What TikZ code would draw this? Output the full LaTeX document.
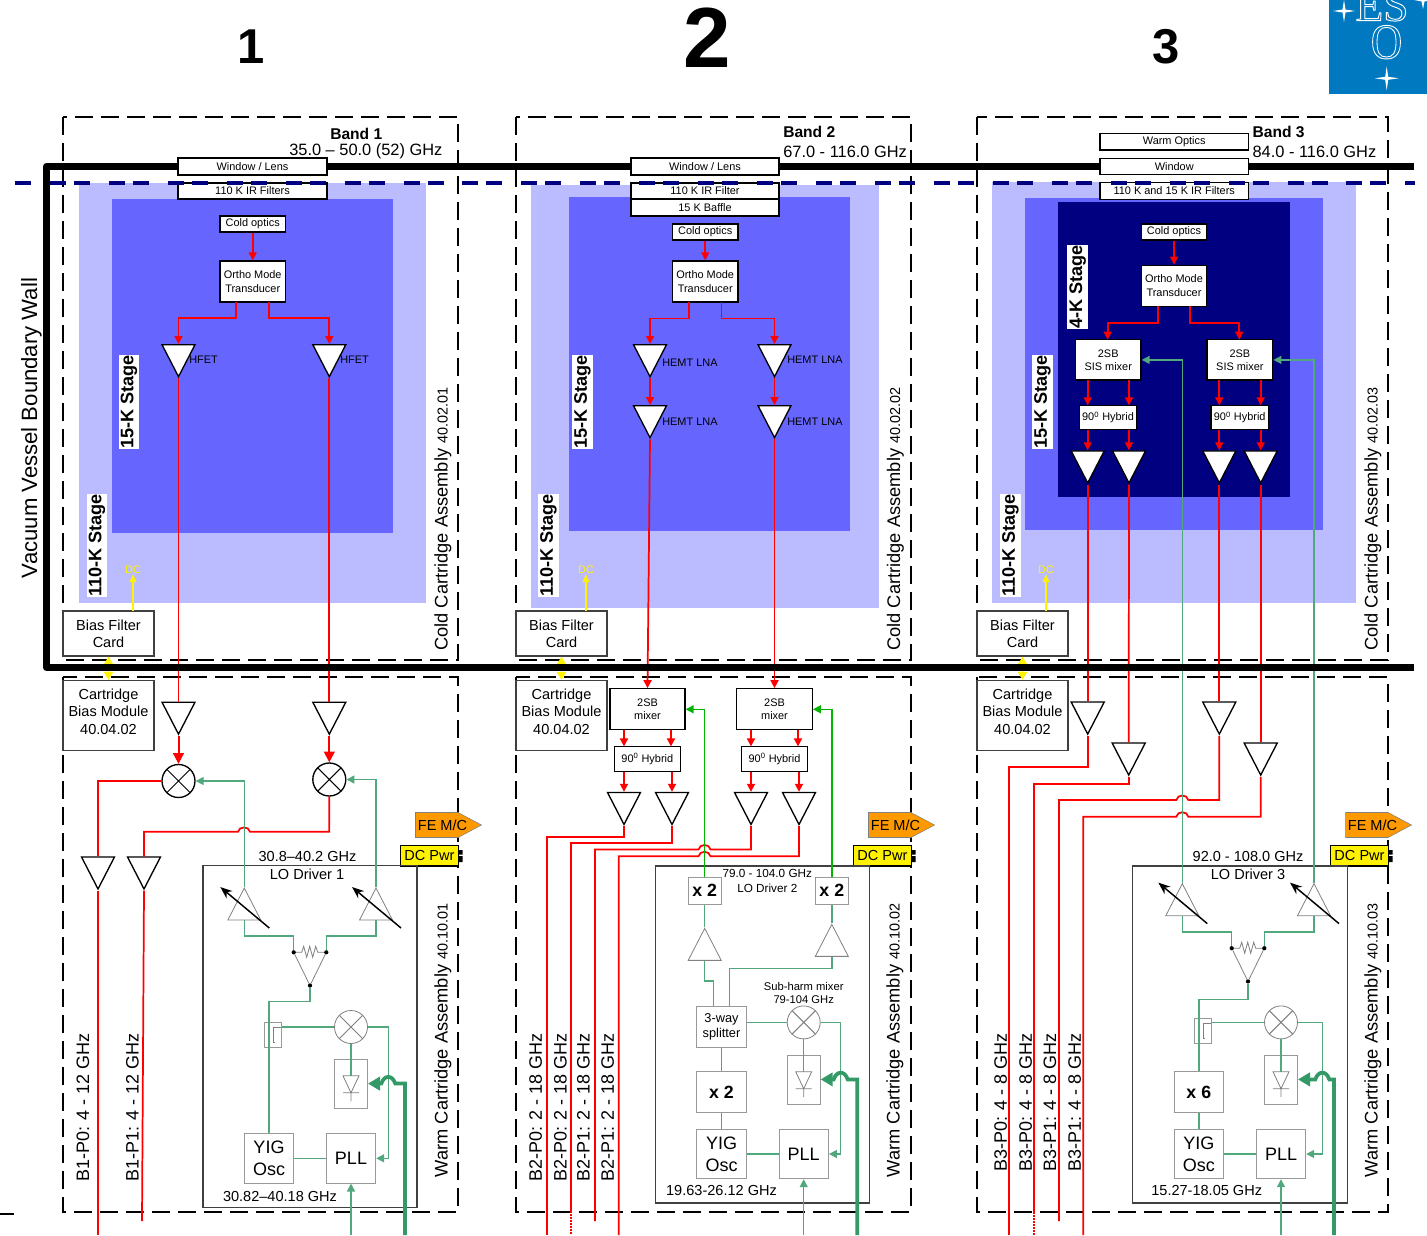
\documentclass[tikz,border=0pt]{standalone}
\usepackage{fontspec}
\setmainfont{Liberation Sans}
\newfontfamily\esofont{Liberation Serif}
\usetikzlibrary{arrows.meta,shapes.geometric}
\definecolor{sigred}{HTML}{FF0000}
\definecolor{logreen}{HTML}{339966}
\definecolor{rfgreen}{HTML}{00B400}
\definecolor{stagelight}{HTML}{BBBBFF}
\definecolor{stagemid}{HTML}{6666FF}
\definecolor{stagedark}{HTML}{000080}
\definecolor{esoblue}{HTML}{0079C1}
\definecolor{fcgray}{HTML}{808080}
\definecolor{femc}{HTML}{FF9900}
\newcommand{\esooutline}[1]{\special{pdf:code 1 Tr 0.7 w 1 1 1 RG}#1\special{pdf:code 0 Tr}}
\tikzset{
	optbox/.style 2 args={draw, fill=white, line width=1pt, inner sep=0pt, align=center, minimum width=#1*0.75pt, minimum height=#2*0.75pt, font=\fontsize{8.2}{10}\selectfont},
	infobox/.style 2 args={draw=black!75, fill=white, line width=1pt, inner sep=0pt, align=center, minimum width=#1*0.75pt, minimum height=#2*0.75pt, font=\fontsize{10.9}{13}\selectfont},
	lobox/.style 2 args={draw=fcgray!80, line width=0.75pt, fill=white, inner sep=0pt, align=center, minimum width=#1*0.75pt, minimum height=#2*0.75pt, font=\fontsize{13.5}{16.5}\selectfont},
	ampd/.style={isosceles triangle, isosceles triangle stretches, shape border rotate=-90, draw, fill=white, line width=1pt, inner sep=0pt, minimum width=33*0.75pt, minimum height=32*0.75pt, anchor=lower side},
	ampu/.style={isosceles triangle, isosceles triangle stretches, shape border rotate=90, draw=fcgray, line width=0.6pt, inner sep=0pt, minimum width=33*0.75pt, minimum height=32*0.75pt, anchor=apex},
	mixer/.style={circle, draw=#1, fill=white, line width=1pt, inner sep=0pt, minimum size=33*0.75pt, path picture={\draw[#1, line width=0.75pt] (path picture bounding box.north west) -- (path picture bounding box.south east) (path picture bounding box.north east) -- (path picture bounding box.south west);}},
	mixer/.default=black,
	dotp/.style={circle, fill=black, inner sep=0pt, minimum size=3.2pt},
	redline/.style={draw=sigred, line width=1.3pt},
	redarrow/.style={redline, -{Triangle[length=6pt,width=6pt]}},
	redbig/.style={redline, line width=1.5pt, -{Triangle[length=8pt,width=8pt]}},
	greenline/.style={draw=logreen!85!white, line width=1.1pt},
	greenarrow/.style={greenline, -{Triangle[length=6pt,width=6pt]}},
	rfarrow/.style={draw=rfgreen, line width=1.1pt, -{Triangle[length=6pt,width=6pt]}},
	thickgreen/.style={draw=logreen, line width=2.8pt, -{Triangle[length=9pt,width=10pt]}},
	bandline/.style={line width=1.3pt, dash pattern=on 13.5pt off 6pt},
	sidelabel/.style={rotate=90, anchor=west, inner sep=0pt, font=\fontsize{13.7}{15}\selectfont},
	ifont/.style={inner sep=0pt, font=\fontsize{10.9}{13}\selectfont},
	tiny/.style={inner sep=0pt, font=\fontsize{8.2}{10}\selectfont},
	stagelab/.style={rotate=90, fill=white, inner xsep=0pt, inner ysep=1.5pt, font=\bfseries\fontsize{13.6}{15}\selectfont},
	bigmult/.style={font=\bfseries\fontsize{13.3}{15}\selectfont},
}
\begin{document}
\begin{tikzpicture}[x=0.75pt,y=-0.75pt]
\useasboundingbox (0,0) rectangle (1427,1235);
% cold stages
\fill[stagelight] (79,183) rectangle (426,603);
\fill[stagemid] (112,199) rectangle (393,533);
\fill[stagelight] (531,185) rectangle (879,608);
\fill[stagemid] (569,197) rectangle (850,531);
\fill[stagelight] (992,182) rectangle (1356,603);
\fill[stagemid] (1025,198) rectangle (1323,530);
\fill[stagedark] (1058,202) rectangle (1290,497);
% titles and logo
\node[font=\bfseries\fontsize{36.7}{40}\selectfont] (title1) at (251,47) {1};
\node[font=\bfseries\fontsize{64}{70}\selectfont] (title2) at (707.5,38) {2};
\node[font=\bfseries\fontsize{36.7}{40}\selectfont] (title3) at (1166,47) {3};
\begin{scope}
	\clip (1329,0) rectangle (1427,94);
	\fill[esoblue] (1329,0) rectangle (1427,94);
	\foreach \cx/\cy/\a in {1344/11/11, 1386.7/78.3/12, 1423/0/9}
		\fill[white] (\cx+\a,\cy) -- (\cx+1.5,\cy-1.5) -- (\cx,\cy-\a) -- (\cx-1.5,\cy-1.5) -- (\cx-\a,\cy) -- (\cx-1.5,\cy+1.5) -- (\cx,\cy+\a) -- (\cx+1.5,\cy+1.5) -- cycle;
	\node[anchor=base, inner sep=0pt, font=\esofont\fontsize{34}{34}\selectfont, text=white] (esoes) at (1382,20.7) {\esooutline{ES}};
	\node[anchor=base, inner sep=0pt, xscale=0.87, font=\esofont\fontsize{37.5}{38}\selectfont, text=white] (esoo) at (1386.5,58.5) {\esooutline{O}};
\end{scope}
% parts that all three bands have
\foreach \n/\l/\r/\dc in {1/63/458/133, 2/516/911/586, 3/977/1388/1046} {
	\draw[bandline] (\l,117) rectangle (\r,660);
	\draw[bandline] (\l,677) rectangle (\r,1212);
	\node[infobox={91}{45}] (bias\n) at (\l+45.5,633.5) {Bias Filter\\Card};
	\node[infobox={91}{70}] (cart\n) at (\l+45.5,715.5) {Cartridge\\Bias Module\\40.04.02\\[-7pt]~};
	\draw[yellow, line width=1.2pt, {Triangle[length=6pt,width=7pt]}-{Triangle[length=6pt,width=7pt]}] (bias\n.south) -- (cart\n.north);
	\node[tiny, yellow] (dc\n) at (\dc,570) {DC};
	\coordinate (dcb\n) at (\dc,611);
	\draw[yellow, line width=1pt, -{Triangle[length=6pt,width=5pt]}] (dcb\n) -- (dc\n.south);
	\draw[fcgray, fill=femc] (\r-42.5,812.5) -- (\r,812.5) -- (\r+23.5,825) -- (\r,837.5) -- (\r-42.5,837.5) -- cycle;
	\node[ifont] (fe\n) at (\r-15.5,825) {FE M/C};
	\node[draw, fill=yellow, line width=0.9pt, ifont, minimum width=57.5*0.75pt, minimum height=20.5*0.75pt] (dcp\n) at (\r-28.5,855.7) {DC Pwr};
	\fill (\r,850) rectangle (\r+4.5,854.5) (\r,856) rectangle (\r+4.5,862);
}
\node[infobox={214}{342}, fill=none, draw=black!75] (lo1) at (310,1036.5) {};
\node[infobox={214}{337}, fill=none, draw=black!75] (lo2) at (762.7,1034.5) {};
\node[infobox={214.6}{337}, fill=none, draw=black!75] (lo3) at (1240,1034.5) {};
% band 1 cold part
\node[optbox={65.5}{16}] (cold1) at (252.7,224) {Cold optics};
\node[optbox={65.5}{41}] (omt1) at (252.7,281.5) {Ortho Mode\\Transducer};
\node[ampd] (hf1a) at (178.5,344) {};
\node[ampd] (hf1b) at (329.3,344) {};
\node[tiny, anchor=west] (hflab1a) at (189,359.5) {HFET};
\node[tiny, anchor=west] (hflab1b) at (340,359.5) {HFET};
\coordinate (omt1l) at (236.3,302);
\coordinate (omt1r) at (268.7,302);
\draw[redarrow] (cold1) -- (omt1);
\draw[redarrow] (omt1l) |- (178.5,318.3) -- (hf1a.lower side);
\draw[redarrow] (omt1r) |- (329.3,318.3) -- (hf1b.lower side);
% band 1 warm part
\node[ampd] (amp1a) at (178.5,701.5) {};
\node[ampd] (amp1b) at (329.3,701.5) {};
\node[mixer] (mix1a) at (178.5,781) {};
\node[mixer] (mix1b) at (329.3,779.5) {};
\node[ampd] (amp1c) at (98,856.3) {};
\node[ampd] (amp1d) at (144,856.3) {};
\coordinate (out1a) at (98,1235);
\coordinate (out1b) at (142,1221);
\draw[redline] (hf1a.apex) -- (amp1a.lower side);
\draw[redline] (hf1b.apex) -- (amp1b.lower side);
\draw[redbig] (amp1a.apex) -- (mix1a.north);
\draw[redbig] (amp1b.apex) -- (mix1b.north);
\draw[redline] (mix1a.west) -| (amp1c.lower side);
\draw[redline] (mix1b.south) |- (250,831.7) .. controls (249,826) and (239,826) .. (238,831.7) -| (amp1d.lower side);
\draw[redline] (amp1c.apex) -- (out1a);
\draw[redline] (amp1d.apex) -- (out1b);
% band 2 cold part
\node[optbox={65.5}{16}] (cold2) at (705.2,232) {Cold optics};
\node[optbox={65.5}{41}] (omt2) at (705.2,281.5) {Ortho Mode\\Transducer};
\node[ampd] (hem2a) at (650,344) {};
\node[ampd] (hem2b) at (774.5,344) {};
\node[ampd] (hem2c) at (650,405) {};
\node[ampd] (hem2d) at (774.5,405) {};
\foreach \nm/\x/\y in {hlab2a/662/363, hlab2b/787/360, hlab2c/662/422, hlab2d/787/422}
	\node[tiny, anchor=west] (\nm) at (\x,\y) {HEMT LNA};
\coordinate (omt2l) at (689,302);
\coordinate (omt2r) at (721.5,302);
\draw[redarrow] (cold2) -- (omt2);
\draw[redarrow] (omt2l) |- (650,318.5) -- (hem2a.lower side);
\draw[redarrow] (omt2r) |- (774.5,318.5) -- (hem2b.lower side);
\draw[redarrow] (hem2a.apex) -- (hem2c.lower side);
\draw[redarrow] (hem2b.apex) -- (hem2d.lower side);
% band 2 warm part
\node[optbox={75}{41}] (sb2a) at (647.5,709.3) {2SB\\mixer};
\node[optbox={75.6}{41}] (sb2b) at (774.5,709.3) {2SB\\mixer};
\node[optbox={66}{25}] (hy2a) at (647.3,759) {90\textsuperscript{0} Hybrid};
\node[optbox={66.4}{25}] (hy2b) at (774.5,759) {90\textsuperscript{0} Hybrid};
\node[ampd] (amp2a) at (624,791.8) {};
\node[ampd] (amp2b) at (672,791.8) {};
\node[ampd] (amp2c) at (751,791.8) {};
\node[ampd] (amp2d) at (799,791.8) {};
\draw[redarrow] (hem2c.apex) -- (sb2a.north);
\draw[redarrow] (hem2d.apex) -- (sb2b.north);
\foreach \x in {624,671,751,798}
	\draw[redarrow] (\x,730) -- (\x,746.4);
\draw[redarrow] (624,771.6) -- (amp2a.lower side);
\draw[redarrow] (672,771.6) -- (amp2b.lower side);
\draw[redarrow] (751,771.6) -- (amp2c.lower side);
\draw[redarrow] (799,771.6) -- (amp2d.lower side);
\coordinate (out2a) at (547,1235);
\coordinate (out2b) at (571,1211);
\coordinate (out2bx) at (571,1235);
\coordinate (out2c) at (595,1221);
\coordinate (out2d) at (618.7,1235);
\draw[redline] (amp2a.apex) |- (547,836.8) -- (out2a);
\draw[redline] (amp2b.apex) |- (571,843.3) -- (out2b);
\draw[redline, densely dotted] (out2b) -- (out2bx);
\draw[redline] (amp2c.apex) |- (710.5,849.5) .. controls (709.5,843.5) and (699.5,843.5) .. (698.5,849.5) -| (out2c);
\draw[redline] (amp2d.apex) |- (710.5,856.3) .. controls (709.5,850.3) and (699.5,850.3) .. (698.5,856.3) -| (out2d);
% band 2 LO driver
\node[lobox={33}{27}, bigmult] (dbl2a) at (704.7,890.7) {x 2};
\node[lobox={33}{27}, bigmult] (dbl2b) at (831.8,890.7) {x 2};
\node[ampu] (tri2a) at (704.7,927.3) {};
\node[ampu] (tri2b) at (831.8,923.3) {};
\node[lobox={49.6}{41}, font=\fontsize{9.6}{11.6}\selectfont] (spl2) at (721.5,1026.8) {3-way\\splitter};
\node[lobox={49.6}{41}, bigmult] (dbl2c) at (721.5,1092.4) {x 2};
\draw[rfarrow] (dbl2a.north) |- (sb2a.east);
\draw[rfarrow] (dbl2b.north) |- (sb2b.east);
\draw[greenline] (dbl2a.south) -- (tri2a.apex);
\draw[greenline] (dbl2b.south) -- (tri2b.apex);
\draw[greenline] (tri2a.lower side) |- (713.3,981) -- (713.3,1006.3);
\draw[greenline] (tri2b.lower side) |- (729.7,968.7) -- (729.7,1006.3);
\draw[greenline] (spl2.south) -- (dbl2c.north);
\node[tiny, align=center, font=\fontsize{8.4}{9.7}\selectfont] (sub2) at (803.7,993) {Sub-harm mixer\\79-104 GHz};
% band 3 cold part
\node[optbox={65.4}{16}] (cold3) at (1174,232) {Cold optics};
\node[optbox={65.4}{41}] (omt3) at (1174,285.7) {Ortho Mode\\Transducer};
\node[optbox={65.7}{40.3}] (sis3a) at (1108.2,359.9) {2SB\\SIS mixer};
\node[optbox={65.7}{40.3}] (sis3b) at (1239.9,359.9) {2SB\\SIS mixer};
\node[optbox={57.4}{24.4}] (hy3a) at (1108,417.5) {90\textsuperscript{0} Hybrid};
\node[optbox={57.4}{24.4}] (hy3b) at (1239.7,417.5) {90\textsuperscript{0} Hybrid};
\node[ampd] (cmp3a) at (1087.7,450.3) {};
\node[ampd] (cmp3b) at (1129,450.3) {};
\node[ampd] (cmp3c) at (1219.3,450.3) {};
\node[ampd] (cmp3d) at (1260.7,450.3) {};
\coordinate (omt3l) at (1157.7,306);
\coordinate (omt3r) at (1190.3,306);
\draw[redarrow] (cold3) -- (omt3);
\draw[redarrow] (omt3l) |- (1107.7,322.7) -- (1107.7,339.7);
\draw[redarrow] (omt3r) |- (1239.3,322.7) -- (1239.3,339.7);
\foreach \x in {1087.7,1129,1219.3,1260.7} {
	\draw[redarrow] (\x,380) -- (\x,405.3);
	\draw[redarrow] (\x,429.7) -- (\x,450.3);
}
% band 3 warm part
\node[ampd] (amp3a) at (1087.7,701.4) {};
\node[ampd] (amp3b) at (1128.7,742.4) {};
\node[ampd] (amp3c) at (1219.3,701.4) {};
\node[ampd] (amp3d) at (1260.7,742.4) {};
\coordinate (out3a) at (1009.3,1235);
\coordinate (out3b) at (1034,1212);
\coordinate (out3bx) at (1034,1235);
\coordinate (out3c) at (1059,1221);
\coordinate (out3d) at (1083.3,1235);
\draw[redline] (cmp3a.apex) -- (amp3a.lower side);
\draw[redline] (cmp3b.apex) -- (amp3b.lower side);
\draw[redline] (cmp3c.apex) -- (amp3c.lower side);
\draw[redline] (cmp3d.apex) -- (amp3d.lower side);
\draw[redline] (amp3a.apex) |- (1009.3,767) -- (out3a);
\draw[redline] (amp3b.apex) |- (1034,783.9) -- (out3b);
\draw[redline, densely dotted] (out3b) -- (out3bx);
\draw[redline] (amp3c.apex) |- (1188.3,800) .. controls (1187.3,794) and (1177.3,794) .. (1176.3,800) -| (out3c);
\draw[redline] (amp3d.apex) |- (1188.3,816.7) .. controls (1187.3,810.7) and (1177.3,810.7) .. (1176.3,816.7) -| (out3d);
% variable amplifiers and power combiners
\foreach \nm/\x/\y in {vamp1a/244.3/887, vamp1b/376/887, vamp3a/1182.3/882.6, vamp3b/1314/882.6} {
	\node[ampu] (\nm) at (\x,\y) {};
	\draw[line width=1.1pt, -{Stealth[length=9pt,width=7pt]}] (\x+25,\y+41) -- (\x-24,\y);
}
\foreach \n/\x/\y in {1/293.7/952.3, 3/1231.7/948.2} {
	\node[dotp] (wl\n) at (\x,\y) {};
	\node[dotp] (wr\n) at (\x+32.6,\y) {};
	\node[dotp] (wb\n) at (\x+16.3,\y+33.2) {};
	\draw[fcgray, line width=0.6pt] (wl\n) -- (wb\n) -- (wr\n);
	\draw[fcgray, line width=0.6pt] (wl\n) -- (\x+8,\y) -- (\x+10,\y-6) -- (\x+13,\y+5) -- (\x+16,\y-6) -- (\x+19,\y+5) -- (\x+22,\y-6) -- (\x+24,\y) -- (wr\n);
}
\draw[greenarrow] (vamp1a.apex) |- (mix1a.east);
\draw[greenarrow] (vamp1b.apex) |- (mix1b.east);
\draw[greenarrow] (vamp3a.apex) |- (sis3a.east);
\draw[greenarrow] (vamp3b.apex) |- (sis3b.east);
\draw[greenline] (vamp1a.lower side) |- (293.7,936) -- (wl1);
\draw[greenline] (vamp1b.lower side) |- (326.3,936) -- (wr1);
\draw[greenline] (vamp3a.lower side) |- (1231.7,932) -- (wl3);
\draw[greenline] (vamp3b.lower side) |- (1264.3,932) -- (wr3);
% phase lock parts
\foreach \n/\mx/\my/\dy/\py/\yx/\gx/\tx/\ty in {1/351/1027/1059.3/1158.3/269/388.3/405/1083.6, 2/803.7/1022.4/1055.2/1154/721.5/840.7/857.3/1079.4, 3/1281/1022.4/1055.2/1154/1198.8/1322.3/1334/1079.4} {
	\node[mixer=fcgray, line width=0.6pt] (lomix\n) at (\mx,\my) {};
	\node[lobox={33}{49.4}, fill=none] (diode\n) at (\mx,\dy+24.7) {};
	\node[lobox={49.4}{49.4}] (yig\n) at (\yx,\py) {YIG\\Osc};
	\node[lobox={49.4}{49.4}] (pll\n) at (\mx,\py) {PLL};
	\coordinate (dtop\n) at (\mx,\dy+16.5);
	\coordinate (pin\n) at (\mx,1235);
	\coordinate (lin\n) at (\tx,1235);
	\draw[fcgray, line width=0.6pt] (\mx-8,\dy+16.5) -- (\mx+8,\dy+16.5) -- (\mx,\dy+33.5) -- cycle (\mx-8,\dy+33.5) -- (\mx+8,\dy+33.5) (\mx,\dy+33.5) -- (\mx,\dy+42);
	\draw[greenline] (lomix\n.south) -- (dtop\n);
	\draw[greenline] (yig\n.east) -- (pll\n.west);
	\draw[greenarrow] (lomix\n.east) -| (\gx,\py) -- (pll\n.east);
	\draw[greenarrow] (pin\n) -- (pll\n.south);
	\draw[thickgreen] (lin\n) |- (\gx+7,\ty) .. controls (\gx+4,\ty-9) and (\gx-4,\ty-9) .. (\gx-7,\ty) -- (diode\n.east |- \gx,\ty);
}
\foreach \n/\x/\y in {1/273/1034.9, 3/1203/1030.7} {
	\node[lobox={17.2}{24.6}, fill=none] (coup\n) at (\x,\y) {};
	\draw[fcgray, line width=0.6pt] (\x+8,\y-7.5) -- (\x,\y-7.5) -- (\x,\y+7.5) -- (\x+2,\y+7.5);
}
\draw[greenline] (wb1) |- (269,1001.5) -- (yig1.north);
\draw[greenline] (wb3) |- (1198.8,999.7) -- (1198.8,1071.8);
\node[lobox={49}{41}, bigmult] (six3) at (1198.8,1092.4) {x 6};
\draw[greenline] (six3.south) -- (yig3.north);
\draw[greenline] (coup1.east |- lomix1.west) -- (lomix1.west);
\draw[greenline] (coup3.east |- lomix3.west) -- (lomix3.west);
\draw[greenline] (spl2.east |- lomix2.west) -- (lomix2.west);
\draw[greenline] (dbl2c.south) -- (yig2.north);
% frequencies on the LO drivers
\node[ifont] (fr1a) at (307.5,856.5) {30.8–40.2 GHz};
\node[ifont] (lod1) at (307,874) {LO Driver 1};
\node[ifont] (fr1b) at (280,1196) {30.82–40.18 GHz};
\node[tiny, font=\fontsize{8.8}{10}\selectfont] (fr2a) at (767.3,873.6) {79.0 - 104.0 GHz};
\node[tiny, font=\fontsize{8.8}{10}\selectfont] (lod2) at (767.3,888) {LO Driver 2};
\node[ifont] (fr2b) at (721.5,1190.7) {19.63-26.12 GHz};
\node[ifont] (fr3a) at (1248,856.7) {92.0 - 108.0 GHz};
\node[ifont] (lod3) at (1248,874.3) {LO Driver 3};
\node[ifont] (fr3b) at (1206.7,1190.7) {15.27-18.05 GHz};
% side labels
\foreach \nm/\x/\t in {b1a/83/B1-P0: 4 - 12 GHz, b1b/132.5/B1-P1: 4 - 12 GHz, b2a/535.7/B2-P0: 2 - 18 GHz, b2b/560.3/B2-P0: 2 - 18 GHz, b2c/583.3/B2-P1: 2 - 18 GHz, b2d/607.7/B2-P1: 2 - 18 GHz}
	\node[sidelabel, font=\fontsize{13.5}{15}\selectfont] (\nm) at (\x,1182) {\t};
\foreach \nm/\x/\t in {b3a/1000.7/B3-P0: 4 - 8 GHz, b3b/1025.7/B3-P0: 4 - 8 GHz, b3c/1050/B3-P1: 4 - 8 GHz, b3d/1074.7/B3-P1: 4 - 8 GHz}
	\node[sidelabel, font=\fontsize{13.5}{15}\selectfont] (\nm) at (\x,1172) {\t};
\foreach \n/\xc/\xw/\cn/\wn in {1/443/443/40.02.01/40.10.01, 2/895.5/895/40.02.02/40.10.02, 3/1373/1373/40.02.03/40.10.03} {
	\node[sidelabel] (ccold\n) at (\xc,651) {Cold Cartridge Assembly {\fontsize{10.8}{12}\selectfont\cn}};
	\node[sidelabel] (cwarm\n) at (\xw,1177.5) {Warm Cartridge Assembly {\fontsize{10.8}{12}\selectfont\wn}};
}
\foreach \nm/\x/\y/\t in {st1a/129/402/15-K Stage, st1b/97/545.5/110-K Stage, st2a/582.5/402/15-K Stage, st2b/548.5/545.5/110-K Stage, st3a/1042.5/402/15-K Stage, st3b/1010.5/545.5/110-K Stage, st3c/1077.7/287/4-K Stage}
	\node[stagelab] (\nm) at (\x,\y) {\t};
\node[rotate=90, inner sep=0pt, font=\fontsize{16.6}{18}\selectfont] (vac) at (31.5,428) {Vacuum Vessel Boundary Wall};
% vessel wall
\draw[line width=5.2pt, line join=round] (1414,166.5) -- (46.5,166.5) -- (46.5,667.5) -- (1414,667.5);
\fill (0,1213) rectangle (14,1215);
% windows and filters
\node[optbox={149}{17}] (win1) at (252.5,166.5) {Window / Lens};
\node[optbox={149}{16}] (fil1) at (252.5,191) {110 K IR Filters};
\node[optbox={148}{17}] (win2) at (705,166.5) {Window / Lens};
\node[optbox={148}{16}] (fil2) at (705,191) {110 K IR Filter};
\node[optbox={148}{17}] (baf2) at (705,207.5) {15 K Baffle};
\node[optbox={148.3}{16.7}] (warm3) at (1174.2,141.7) {Warm Optics};
\node[optbox={148.3}{16.4}] (win3) at (1174.2,166.5) {Window};
\node[optbox={148.3}{16.6}] (fil3) at (1174.2,191) {110 K and 15 K IR Filters};
% band names
\node[anchor=west, inner sep=0pt, font=\bfseries\fontsize{11.7}{14}\selectfont] (bn1) at (330,133.5) {Band 1};
\node[anchor=west, inner sep=0pt, font=\fontsize{12.3}{14}\selectfont] (bf1) at (289,151.5) {35.0 – 50.0 (52) GHz};
\node[anchor=west, inner sep=0pt, font=\bfseries\fontsize{11.7}{14}\selectfont] (bn2) at (783,132) {Band 2};
\node[anchor=west, inner sep=0pt, font=\fontsize{12.3}{14}\selectfont] (bf2) at (783,151.5) {67.0 - 116.0 GHz};
\node[anchor=west, inner sep=0pt, font=\bfseries\fontsize{11.7}{14}\selectfont] (bn3) at (1252.3,132) {Band 3};
\node[anchor=west, inner sep=0pt, font=\fontsize{12.3}{14}\selectfont] (bf3) at (1252.3,151.5) {84.0 - 116.0 GHz};
% cold boundary
\draw[stagedark, line width=3pt, dash pattern=on 12pt off 14.2pt on 12pt off 6pt] (15,183) -- (1415,183);
\end{tikzpicture}
\end{document}
